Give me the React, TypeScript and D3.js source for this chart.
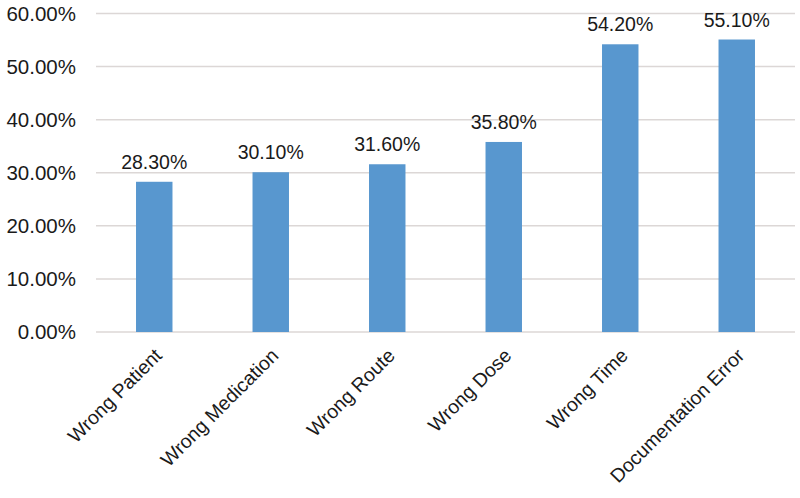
import { useEffect, useRef } from "react"
import * as d3 from "d3"

const categories = ["Wrong Patient", "Wrong Medication", "Wrong Route", "Wrong Dose", "Wrong Time", "Documentation Error"]
const values = [28.3, 30.1, 31.6, 35.8, 54.2, 55.1]
const yTicks = [0, 10, 20, 30, 40, 50, 60]

export default function App() {
  const svgRef = useRef<SVGSVGElement>(null)

  useEffect(() => {
    if (!svgRef.current) return
    const width = 800
    const height = 498
    const margin = { top: 13.5, right: 5, bottom: 166, left: 96 }
    const innerWidth = width - margin.left - margin.right
    const innerHeight = height - margin.top - margin.bottom

    const svg = d3.select(svgRef.current)
    svg.selectAll("*").remove()

    const font = "'Liberation Sans', Arial, sans-serif"

    const x = d3.scaleBand().domain(categories).range([0, innerWidth]).paddingInner(0.687).paddingOuter(0.3435)
    const y = d3.scaleLinear().domain([0, 60]).range([innerHeight, 0])

    const g = svg.append("g").attr("transform", `translate(${margin.left},${margin.top})`)

    // Grid lines
    g.selectAll(".grid")
      .data(yTicks)
      .enter()
      .append("line")
      .attr("x1", 0)
      .attr("x2", innerWidth)
      .attr("y1", (d) => y(d))
      .attr("y2", (d) => y(d))
      .attr("stroke", "#dcd7d6")
      .attr("stroke-width", 1.5)

    // Y tick labels
    g.selectAll(".ytick")
      .data(yTicks)
      .enter()
      .append("text")
      .attr("x", -20)
      .attr("y", (d) => y(d))
      .attr("dy", "0.36em")
      .attr("text-anchor", "end")
      .attr("font-family", font)
      .attr("font-size", 20.5)
      .attr("fill", "#1a1a1a")
      .text((d) => `${d.toFixed(2)}%`)

    // Bars
    g.selectAll(".bar")
      .data(values)
      .enter()
      .append("rect")
      .attr("x", (_, i) => x(categories[i]) || 0)
      .attr("y", (d) => y(d))
      .attr("width", x.bandwidth())
      .attr("height", (d) => innerHeight - y(d))
      .attr("fill", "#5897cf")

    // Value labels
    g.selectAll(".val")
      .data(values)
      .enter()
      .append("text")
      .attr("x", (_, i) => (x(categories[i]) || 0) + x.bandwidth() / 2)
      .attr("y", (d) => y(d) - 13)
      .attr("text-anchor", "middle")
      .attr("font-family", font)
      .attr("font-size", 19.5)
      .attr("fill", "#1a1a1a")
      .text((d) => `${d.toFixed(2)}%`)

    // Category labels
    g.selectAll(".cat")
      .data(categories)
      .enter()
      .append("text")
      .attr("transform", (d) => `translate(${(x(d) || 0) + x.bandwidth() / 2 + 4},${innerHeight + 20}) rotate(-45)`)
      .attr("dy", "0.35em")
      .attr("text-anchor", "end")
      .attr("font-family", font)
      .attr("font-size", 19.5)
      .attr("fill", "#1a1a1a")
      .text((d) => d)
  }, [])

  return (
    <svg
      ref={svgRef}
      width={800}
      height={498}
      style={{ position: "absolute", left: 0, top: 0, background: "#fff" }}
    />
  )
}
